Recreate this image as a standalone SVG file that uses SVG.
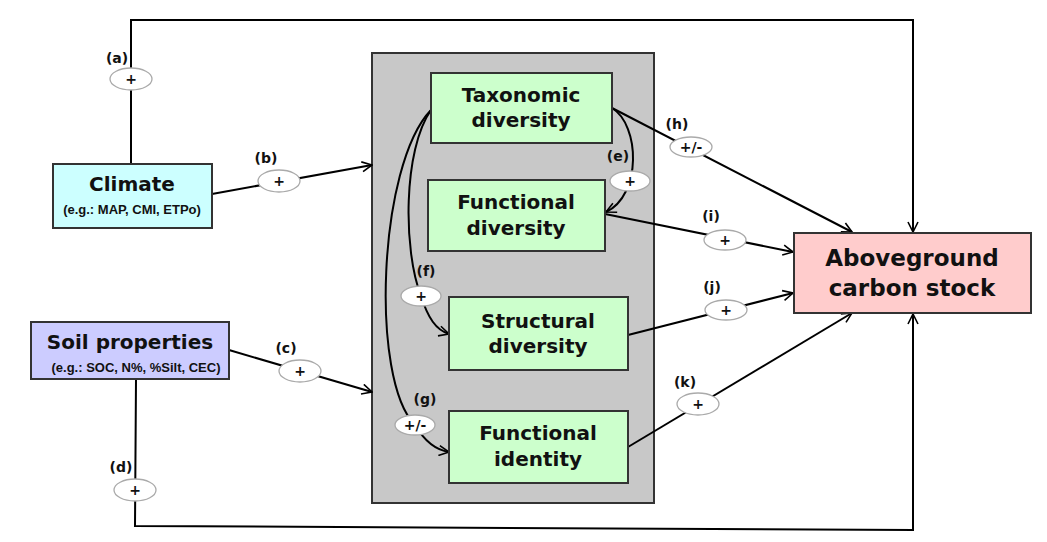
<svg xmlns="http://www.w3.org/2000/svg" width="1047" height="542" viewBox="0 0 1047 542">
<defs>
<marker id="arr" viewBox="0 0 12 12" refX="11" refY="6" markerWidth="12" markerHeight="12" markerUnits="userSpaceOnUse" orient="auto">
<path d="M1,1 L11,6 L1,11" fill="none" stroke="#000" stroke-width="1.6"/>
</marker>
</defs>
<style>
.ln{fill:none;stroke:#000;stroke-width:2}
.box{stroke:#333;stroke-width:2}
.ell{fill:#fff;stroke:#aaa;stroke-width:1.3}
.t{font-family:"DejaVu Sans",Verdana,sans-serif;font-weight:bold;fill:#111;text-anchor:middle}
.big{font-size:20px}
.huge{font-size:23px}
.sub{font-family:"Liberation Sans",Arial,sans-serif;font-size:13px}
.lbl{font-family:"DejaVu Sans",Verdana,sans-serif;font-weight:bold;font-size:14px;fill:#111;text-anchor:middle}
.sg{font-family:"DejaVu Sans",Verdana,sans-serif;font-weight:bold;font-size:14px;fill:#111;text-anchor:middle}
</style>
<rect width="1047" height="542" fill="#fff"/>
<g id="panel">
<rect x="372" y="53" width="282" height="450" fill="#c8c8c8" class="box"/>
</g>
<g id="connectors">
<path class="ln" d="M131,164 L131,20 L913,20 L913,232" marker-end="url(#arr)"/>
<path class="ln" d="M212,194 L372,165" marker-end="url(#arr)"/>
<path class="ln" d="M229,350 L372,392" marker-end="url(#arr)"/>
<path class="ln" d="M136,379 L135,526 L913,530 L913,314" marker-end="url(#arr)"/>
<path class="ln" d="M612,108 C640,125 642,195 606,212" marker-end="url(#arr)"/>
<path class="ln" d="M431,110 C403,150 403,250 421,296 C428,318 436,330 449,334" marker-end="url(#arr)"/>
<path class="ln" d="M431,110 C378,165 370,380 415,425 C425,442 436,450 449,452" marker-end="url(#arr)"/>
<path class="ln" d="M612,108 L852,232" marker-end="url(#arr)"/>
<path class="ln" d="M605,214 L793,252" marker-end="url(#arr)"/>
<path class="ln" d="M628,335 L793,293" marker-end="url(#arr)"/>
<path class="ln" d="M628,447 L852,313" marker-end="url(#arr)"/>
</g>
<g id="signs">
<ellipse class="ell" cx="131" cy="79" rx="21" ry="11"/><text class="sg" x="131" y="84">+</text><text class="lbl" x="117" y="63">(a)</text>
<ellipse class="ell" cx="279" cy="181" rx="21" ry="11"/><text class="sg" x="279" y="186">+</text><text class="lbl" x="266" y="163">(b)</text>
<ellipse class="ell" cx="300" cy="371" rx="21" ry="11"/><text class="sg" x="300" y="376">+</text><text class="lbl" x="286" y="353">(c)</text>
<ellipse class="ell" cx="135" cy="490" rx="21" ry="11"/><text class="sg" x="135" y="495">+</text><text class="lbl" x="121" y="472">(d)</text>
<ellipse class="ell" cx="630" cy="181" rx="20" ry="10"/><text class="sg" x="630" y="186">+</text><text class="lbl" x="618" y="161">(e)</text>
<ellipse class="ell" cx="421" cy="296" rx="20" ry="10"/><text class="sg" x="421" y="301">+</text><text class="lbl" x="426" y="276">(f)</text>
<ellipse class="ell" cx="415" cy="425" rx="20" ry="10"/><text class="sg" x="415" y="430">+/-</text><text class="lbl" x="425" y="404">(g)</text>
<ellipse class="ell" cx="691" cy="147" rx="21" ry="10"/><text class="sg" x="691" y="152">+/-</text><text class="lbl" x="677" y="129">(h)</text>
<ellipse class="ell" cx="725" cy="240" rx="21" ry="10"/><text class="sg" x="725" y="245">+</text><text class="lbl" x="711" y="221">(i)</text>
<ellipse class="ell" cx="726" cy="310" rx="21" ry="10"/><text class="sg" x="726" y="315">+</text><text class="lbl" x="712" y="292">(j)</text>
<ellipse class="ell" cx="698" cy="404" rx="21" ry="11"/><text class="sg" x="698" y="409">+</text><text class="lbl" x="685" y="387">(k)</text>
</g>
<g id="climate">
<rect x="53" y="164" width="159" height="64" fill="#ccffff" class="box"/>
<text class="t big" x="132" y="191">Climate</text>
<text class="t sub" x="132" y="214">(e.g.: MAP, CMI, ETPo)</text>
</g>
<g id="soil">
<rect x="31" y="322" width="198" height="57" fill="#ccccff" class="box"/>
<text class="t big" x="130" y="349">Soil properties</text>
<text class="t sub" x="136" y="372">(e.g.: SOC, N%, %Silt, CEC)</text>
</g>
<g id="taxonomic">
<rect x="431" y="73" width="181" height="70" fill="#ccffcc" class="box"/>
<text class="t big" x="521" y="102">Taxonomic</text>
<text class="t big" x="521" y="127">diversity</text>
</g>
<g id="functional-diversity">
<rect x="428" y="180" width="177" height="71" fill="#ccffcc" class="box"/>
<text class="t big" x="516" y="209">Functional</text>
<text class="t big" x="516" y="235">diversity</text>
</g>
<g id="structural-diversity">
<rect x="449" y="297" width="179" height="73" fill="#ccffcc" class="box"/>
<text class="t big" x="538" y="328">Structural</text>
<text class="t big" x="538" y="353">diversity</text>
</g>
<g id="functional-identity">
<rect x="449" y="411" width="179" height="72" fill="#ccffcc" class="box"/>
<text class="t big" x="538" y="440">Functional</text>
<text class="t big" x="538" y="466">identity</text>
</g>
<g id="aboveground">
<rect x="794" y="233" width="237" height="80" fill="#ffcccc" class="box"/>
<text class="t huge" x="912" y="266">Aboveground</text>
<text class="t huge" x="912" y="296">carbon stock</text>
</g>
</svg>
